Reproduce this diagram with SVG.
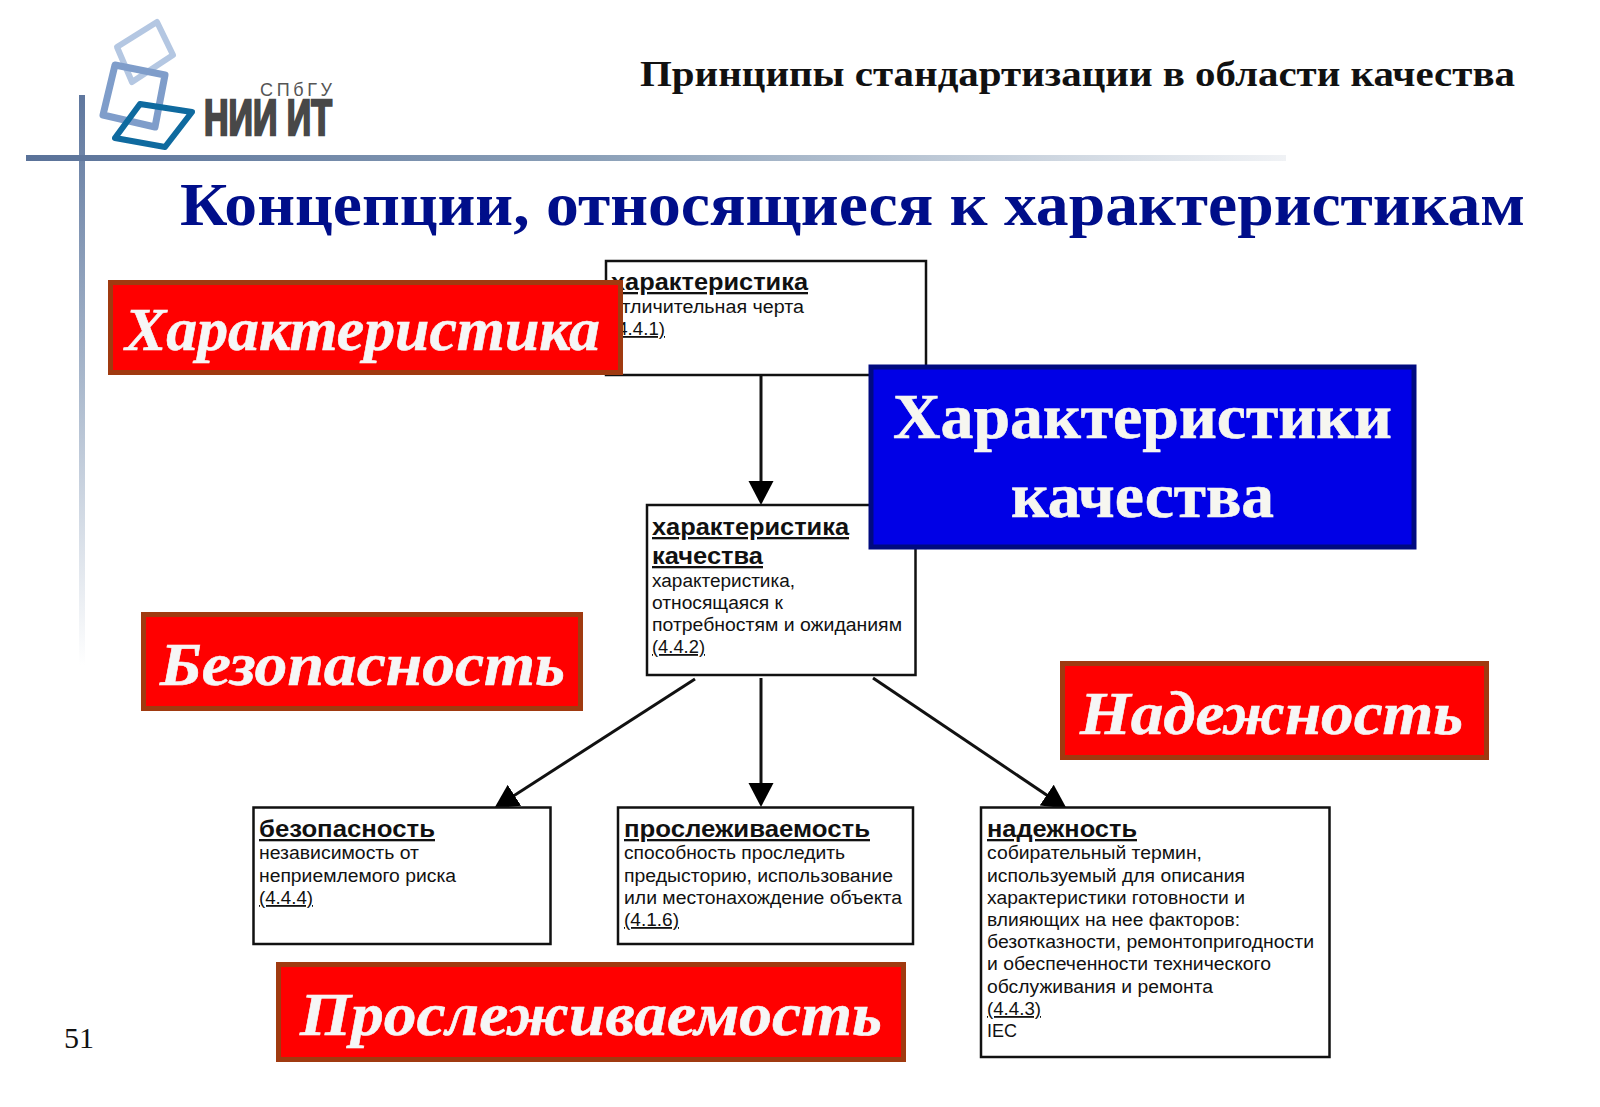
<svg xmlns="http://www.w3.org/2000/svg" width="1600" height="1107" viewBox="0 0 1600 1107">
<style>
.sans{font-family:"Liberation Sans",Arial,sans-serif;fill:#111}
.t{font-size:23px;font-weight:bold;text-decoration:underline}
.s{font-size:18px}
.u{font-size:18px;text-decoration:underline}
.serif{font-family:"Liberation Serif","Times New Roman",serif}
.box{fill:#fff;stroke:#111;stroke-width:2.5}
.red{fill:#ff0000;stroke:#a03a10;stroke-width:5}
.rt{font-family:"Liberation Serif","Times New Roman",serif;font-style:italic;font-weight:bold;fill:#f6f6f6;stroke:#f6f6f6;stroke-width:.6;font-size:62px}
.bt{font-family:"Liberation Serif","Times New Roman",serif;font-weight:bold;fill:#f6f6f0;stroke:#f6f6f0;stroke-width:.6;font-size:64px}
.conn{stroke:#111;stroke-width:3;fill:none;marker-end:url(#arr)}
</style>
<defs>
<marker id="arr" markerUnits="userSpaceOnUse" markerWidth="26" markerHeight="26" refX="16" refY="13" orient="auto">
<path d="M0 0.5L24 13L0 25.5Z" fill="#000"/>
</marker>
<linearGradient id="hline" x1="0" x2="1" y1="0" y2="0">
<stop offset="0" stop-color="#5a7299"/><stop offset="0.45" stop-color="#8ba0b8"/><stop offset="1" stop-color="#f0f2f5"/>
</linearGradient>
<linearGradient id="vline" x1="0" x2="0" y1="0" y2="1">
<stop offset="0" stop-color="#5f779e"/><stop offset="0.5" stop-color="#a9b8cc"/><stop offset="1" stop-color="#ffffff"/>
</linearGradient>
</defs>
<rect width="1600" height="1107" fill="#fff"/>

<g id="decor">
<rect x="79" y="95" width="6" height="570" fill="url(#vline)"/>
<rect x="26" y="155" width="1260" height="6" fill="url(#hline)"/>
</g>

<g id="logo">
<path d="M157 22L173 55L132 82L117 47Z" fill="none" stroke="#b4c7e2" stroke-width="6" stroke-linejoin="round"/>
<path d="M115 65L165 75L155 127L103 115Z" fill="none" stroke="#7f9dca" stroke-width="7" stroke-linejoin="round"/>
<path d="M140 104L192 112L165 147L115 138Z" fill="none" stroke="#0f6a9f" stroke-width="6" stroke-linejoin="round"/>
<text x="260" y="96" font-family="Liberation Sans,Arial,sans-serif" font-size="18" fill="#555" textLength="72">СПбГУ</text>
<text x="204" y="135" font-family="Liberation Sans,Arial,sans-serif" font-size="50" font-weight="bold" fill="#484848" stroke="#484848" stroke-width="2.5" textLength="128" lengthAdjust="spacingAndGlyphs">НИИ ИТ</text>
</g>

<text id="header" class="serif" x="640" y="86" font-size="36" font-weight="bold" fill="#111" textLength="875" lengthAdjust="spacingAndGlyphs">Принципы стандартизации в области качества</text>
<text id="title" class="serif" x="180" y="225" font-size="62" font-weight="bold" fill="#000e8a" textLength="1345" lengthAdjust="spacingAndGlyphs">Концепции, относящиеся к характеристикам</text>
<text id="page" class="serif" x="64" y="1048" font-size="30" fill="#111">51</text>

<g id="connectors">
<path class="conn" d="M761 375V497"/>
<path class="conn" d="M761 678V799"/>
<path class="conn" d="M695 679L501 804"/>
<path class="conn" d="M873 678L1060 804"/>
</g>

<g id="node-characteristic">
<rect class="box" x="606" y="261" width="320" height="114"/>
<text class="sans t" x="611" y="290" textLength="197" lengthAdjust="spacingAndGlyphs">характеристика</text>
<text class="sans s" x="611" y="313" textLength="193" lengthAdjust="spacingAndGlyphs">отличительная черта</text>
<text class="sans u" x="611" y="335" textLength="54" lengthAdjust="spacingAndGlyphs">(4.4.1)</text>
</g>

<g id="node-quality">
<rect class="box" x="647" y="505" width="268.500" height="170"/>
<text class="sans t" x="652" y="535" textLength="197" lengthAdjust="spacingAndGlyphs">характеристика</text>
<text class="sans t" x="652" y="564" textLength="111" lengthAdjust="spacingAndGlyphs">качества</text>
<text class="sans s" x="652" y="587" textLength="143" lengthAdjust="spacingAndGlyphs">характеристика,</text>
<text class="sans s" x="652" y="609" textLength="131" lengthAdjust="spacingAndGlyphs">относящаяся к</text>
<text class="sans s" x="652" y="631" textLength="250" lengthAdjust="spacingAndGlyphs">потребностям и ожиданиям</text>
<text class="sans u" x="652" y="653" textLength="53" lengthAdjust="spacingAndGlyphs">(4.4.2)</text>
</g>

<g id="node-safety">
<rect class="box" x="253.500" y="807.500" width="297" height="136.500"/>
<text class="sans t" x="259" y="837" textLength="176" lengthAdjust="spacingAndGlyphs">безопасность</text>
<text class="sans s" x="259" y="859" textLength="160" lengthAdjust="spacingAndGlyphs">независимость от</text>
<text class="sans s" x="259" y="882" textLength="197" lengthAdjust="spacingAndGlyphs">неприемлемого риска</text>
<text class="sans u" x="259" y="904" textLength="54" lengthAdjust="spacingAndGlyphs">(4.4.4)</text>
</g>

<g id="node-traceability">
<rect class="box" x="618" y="807.500" width="295" height="136.500"/>
<text class="sans t" x="624" y="837" textLength="246" lengthAdjust="spacingAndGlyphs">прослеживаемость</text>
<text class="sans s" x="624" y="859" textLength="221" lengthAdjust="spacingAndGlyphs">способность проследить</text>
<text class="sans s" x="624" y="882" textLength="269" lengthAdjust="spacingAndGlyphs">предысторию, использование</text>
<text class="sans s" x="624" y="904" textLength="278" lengthAdjust="spacingAndGlyphs">или местонахождение объекта</text>
<text class="sans u" x="624" y="926" textLength="55" lengthAdjust="spacingAndGlyphs">(4.1.6)</text>
</g>

<g id="node-reliability">
<rect class="box" x="981" y="807.500" width="348.500" height="249.500"/>
<text class="sans t" x="987" y="837" textLength="150" lengthAdjust="spacingAndGlyphs">надежность</text>
<text class="sans s" x="987" y="859" textLength="215" lengthAdjust="spacingAndGlyphs">собирательный термин,</text>
<text class="sans s" x="987" y="882" textLength="258" lengthAdjust="spacingAndGlyphs">используемый для описания</text>
<text class="sans s" x="987" y="904" textLength="258" lengthAdjust="spacingAndGlyphs">характеристики готовности и</text>
<text class="sans s" x="987" y="926" textLength="253" lengthAdjust="spacingAndGlyphs">влияющих на нее факторов:</text>
<text class="sans s" x="987" y="948" textLength="327" lengthAdjust="spacingAndGlyphs">безотказности, ремонтопригодности</text>
<text class="sans s" x="987" y="970" textLength="284" lengthAdjust="spacingAndGlyphs">и обеспеченности технического</text>
<text class="sans s" x="987" y="993" textLength="226" lengthAdjust="spacingAndGlyphs">обслуживания и ремонта</text>
<text class="sans u" x="987" y="1015" textLength="54" lengthAdjust="spacingAndGlyphs">(4.4.3)</text>
<text class="sans s" x="987" y="1037" textLength="30" lengthAdjust="spacingAndGlyphs">IEC</text>
</g>

<g id="label-characteristic">
<rect class="red" x="110.500" y="282.500" width="510" height="90"/>
<text class="rt" x="125" y="350" textLength="475" lengthAdjust="spacingAndGlyphs">Характеристика</text>
</g>
<g id="label-quality">
<rect x="871" y="367" width="543" height="180" fill="#0000e6" stroke="#000a80" stroke-width="5"/>
<text class="bt" x="893" y="438" textLength="499" lengthAdjust="spacingAndGlyphs">Характеристики</text>
<text class="bt" x="1011" y="517" textLength="263" lengthAdjust="spacingAndGlyphs">качества</text>
</g>
<g id="label-safety">
<rect class="red" x="143.500" y="614.500" width="437" height="94"/>
<text class="rt" x="160" y="685" textLength="405" lengthAdjust="spacingAndGlyphs">Безопасность</text>
</g>
<g id="label-reliability">
<rect class="red" x="1062.500" y="663.500" width="424" height="94"/>
<text class="rt" x="1080" y="734" textLength="383" lengthAdjust="spacingAndGlyphs">Надежность</text>
</g>
<g id="label-traceability">
<rect class="red" x="278.500" y="964.500" width="625" height="95"/>
<text class="rt" x="300" y="1035" textLength="582" lengthAdjust="spacingAndGlyphs">Прослеживаемость</text>
</g>
</svg>
